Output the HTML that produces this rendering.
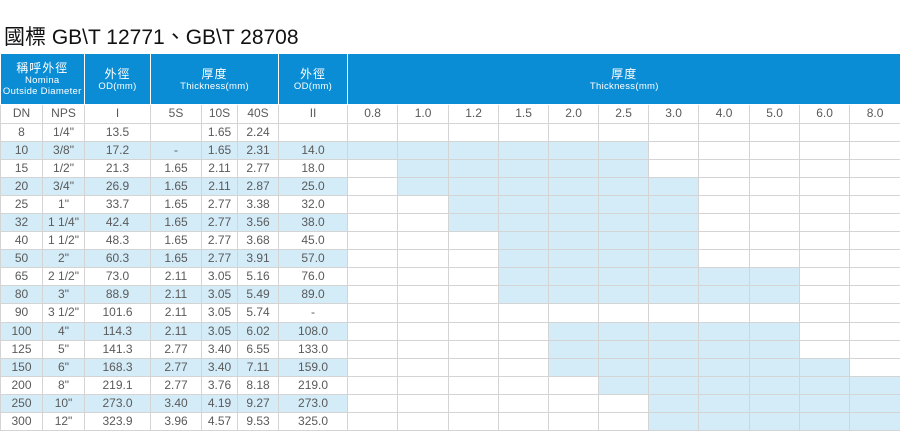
<!DOCTYPE html>
<html><head><meta charset="utf-8"><style>
body{margin:0;width:900px;height:447px;background:#fff;overflow:hidden;font-family:"Liberation Sans","Noto Sans CJK TC",sans-serif}
.t{position:absolute;left:4px;top:21px;font-size:21px;color:#111;white-space:nowrap}
table{position:absolute;left:0;top:54px;border-collapse:collapse;table-layout:fixed;width:900px}
td{padding:0;text-align:center;color:#5a5a5a;font-size:12px;border:1px solid #d4d4d4;height:17.1px;line-height:17px;overflow:hidden;white-space:nowrap}
tr.h td{background:#0a8dd4;color:#fff;height:50px;line-height:11px;border:1px solid #fff;border-top:none;font-size:9.5px;letter-spacing:0.3px}
tr.h td b{font-weight:normal;font-size:12px;display:block;line-height:14px;letter-spacing:1px}
tr.s td{height:17.5px}
.b{background:#d3ecf8}
</style></head><body>
<div class="t">國標 GB\T 12771、GB\T 28708</div>
<table>
<colgroup><col style="width:42px"><col style="width:42px"><col style="width:66px"><col style="width:51px"><col style="width:36px"><col style="width:41px"><col style="width:69px"><col style="width:50px"><col style="width:51px"><col style="width:50px"><col style="width:50px"><col style="width:50px"><col style="width:50px"><col style="width:50px"><col style="width:51px"><col style="width:50px"><col style="width:50px"><col style="width:51px"></colgroup>
<tr class="h"><td colspan="2" style="border-left:none"><b>稱呼外徑</b>Nomina<br>Outside Diameter</td><td><b>外徑</b>OD(mm)</td><td colspan="3"><b>厚度</b>Thickness(mm)</td><td><b>外徑</b>OD(mm)</td><td colspan="11" style="border-right:none"><b>厚度</b>Thickness(mm)</td></tr>
<tr class="s"><td>DN</td><td>NPS</td><td>I</td><td>5S</td><td>10S</td><td>40S</td><td>II</td><td>0.8</td><td>1.0</td><td>1.2</td><td>1.5</td><td>2.0</td><td>2.5</td><td>3.0</td><td>4.0</td><td>5.0</td><td>6.0</td><td>8.0</td></tr>
</table>
<script>
var rows=[["8","1/4\"","13.5","","1.65","2.24","",-1,-1],
["10","3/8\"","17.2","-","1.65","2.31","14.0",0,5],
["15","1/2\"","21.3","1.65","2.11","2.77","18.0",1,5],
["20","3/4\"","26.9","1.65","2.11","2.87","25.0",1,6],
["25","1\"","33.7","1.65","2.77","3.38","32.0",2,6],
["32","1 1/4\"","42.4","1.65","2.77","3.56","38.0",2,6],
["40","1 1/2\"","48.3","1.65","2.77","3.68","45.0",3,6],
["50","2\"","60.3","1.65","2.77","3.91","57.0",3,6],
["65","2 1/2\"","73.0","2.11","3.05","5.16","76.0",3,8],
["80","3\"","88.9","2.11","3.05","5.49","89.0",3,8],
["90","3 1/2\"","101.6","2.11","3.05","5.74","-",-1,-1],
["100","4\"","114.3","2.11","3.05","6.02","108.0",4,8],
["125","5\"","141.3","2.77","3.40","6.55","133.0",4,8],
["150","6\"","168.3","2.77","3.40","7.11","159.0",4,9],
["200","8\"","219.1","2.77","3.76","8.18","219.0",5,10],
["250","10\"","273.0","3.40","4.19","9.27","273.0",6,10],
["300","12\"","323.9","3.96","4.57","9.53","325.0",6,10]];
var tb=document.querySelector('table'),h='';
rows.forEach(function(r,i){var L=i%2==1?' class="b"':'';h+='<tr>';
for(var j=0;j<7;j++)h+='<td'+L+'>'+r[j]+'</td>';
for(var k=0;k<11;k++)h+='<td'+((k>=r[7]&&k<=r[8]&&r[7]>=0)?' class="b"':'')+'></td>';
h+='</tr>';});
tb.insertAdjacentHTML('beforeend',h);
</script>
</body></html>
